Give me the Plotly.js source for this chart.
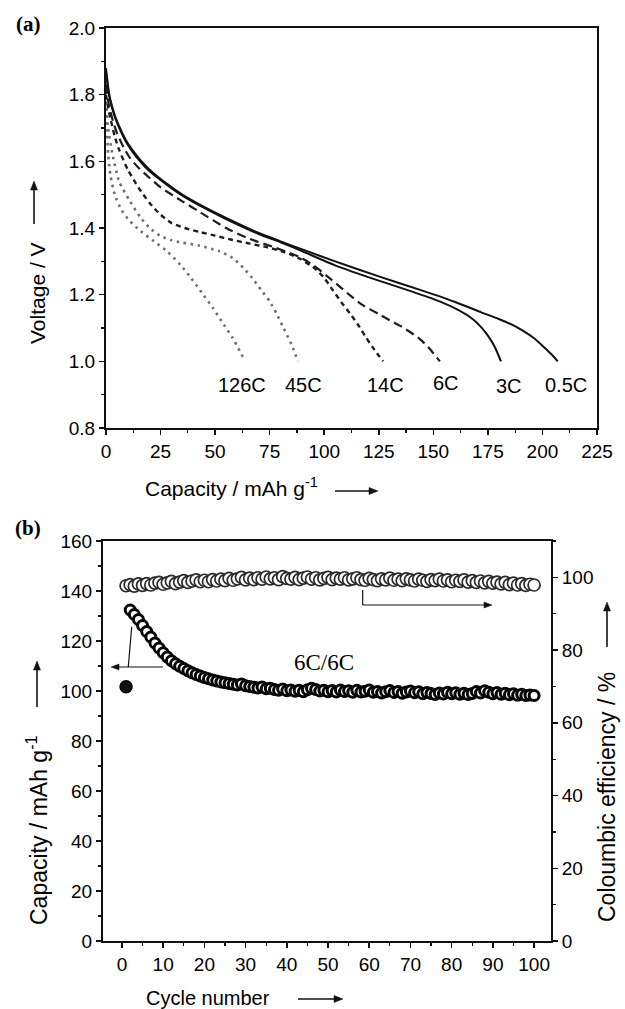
<!DOCTYPE html>
<html>
<head>
<meta charset="utf-8">
<script src="https://cdn.plot.ly/plotly-3.0.1.min.js"></script>
<style>
html,body{margin:0;padding:0;background:#fff;}
#chart{width:625px;height:1009px;}
</style>
</head>
<body>
<div id="chart"></div>
<script>
// ---------- Panel (a): discharge curves ----------
var cap05C = [0, 0.5, 1.5, 3, 4.5, 6.4, 9, 12, 15.6, 20, 27.8, 35, 43, 55, 70, 80, 89, 105, 125, 145, 160, 172, 180, 186, 191, 196, 200, 204, 207];
var v05C   = [1.88, 1.85, 1.80, 1.76, 1.73, 1.70, 1.665, 1.635, 1.605, 1.575, 1.533, 1.50, 1.47, 1.43, 1.385, 1.36, 1.338, 1.30, 1.255, 1.212, 1.178, 1.147, 1.127, 1.11, 1.092, 1.07, 1.047, 1.022, 1.0];

var cap3C = [0, 0.5, 1.5, 3, 4.5, 6.4, 9, 12, 15.6, 20, 27.8, 35, 43, 55, 70, 80, 89, 105, 125, 140, 152, 162, 168, 172, 175, 178, 181];
var v3C   = [1.87, 1.84, 1.795, 1.755, 1.725, 1.695, 1.66, 1.63, 1.60, 1.57, 1.53, 1.497, 1.467, 1.427, 1.382, 1.357, 1.333, 1.288, 1.242, 1.21, 1.182, 1.152, 1.127, 1.102, 1.077, 1.045, 1.0];

var cap6C = [0, 1, 3, 5, 8, 11, 15, 20, 25, 35, 43, 55, 66, 78, 89, 95, 101, 107, 112, 118, 125, 130, 135, 140, 144, 148, 153];
var v6C   = [1.83, 1.78, 1.725, 1.685, 1.643, 1.61, 1.58, 1.55, 1.522, 1.48, 1.448, 1.40, 1.367, 1.34, 1.312, 1.288, 1.257, 1.225, 1.197, 1.167, 1.142, 1.123, 1.106, 1.085, 1.066, 1.04, 1.0];

var cap14C = [0, 1, 2, 4, 6, 10, 15, 20, 25, 30, 36, 43, 50, 58, 66, 74, 82, 89, 96, 100, 104, 108, 112, 116, 119, 123, 127];
var v14C   = [1.80, 1.76, 1.73, 1.675, 1.635, 1.575, 1.52, 1.475, 1.44, 1.415, 1.40, 1.388, 1.377, 1.364, 1.353, 1.342, 1.327, 1.307, 1.277, 1.25, 1.213, 1.176, 1.142, 1.105, 1.073, 1.035, 1.0];

var cap45C = [0, 1, 3, 6, 11, 16, 20, 25, 30, 35, 43, 52, 58, 63, 67, 71, 75, 78, 81, 85, 88];
var v45C   = [1.78, 1.70, 1.62, 1.54, 1.48, 1.43, 1.40, 1.376, 1.363, 1.356, 1.347, 1.33, 1.31, 1.28, 1.25, 1.215, 1.18, 1.145, 1.105, 1.05, 1.0];

var cap126C = [0, 0.5, 1, 2, 4, 7, 11, 16, 22, 28, 34, 39, 44, 49, 54, 58, 63];
var v126C   = [1.76, 1.68, 1.62, 1.56, 1.50, 1.455, 1.42, 1.39, 1.36, 1.33, 1.29, 1.25, 1.205, 1.16, 1.11, 1.07, 1.01];

var rateLabels = ["126C", "45C", "14C", "6C", "3C", "0.5C"];
var rateLabelCap = [62.3, 90.7, 128.2, 155.7, 184.6, 210.7];
var rateLabelV = [0.93, 0.93, 0.93, 0.935, 0.925, 0.93];

// ---------- Panel (b): cycling ----------
var firstCycle = [1];
var firstCapacity = [101.7];

var cycles = [2, 3, 4, 5, 6, 7, 8, 9, 10,
  11, 12, 13, 14, 15, 16, 17, 18, 19, 20,
  21, 22, 23, 24, 25, 26, 27, 28, 29, 30,
  31, 32, 33, 34, 35, 36, 37, 38, 39, 40,
  41, 42, 43, 44, 45, 46, 47, 48, 49, 50,
  51, 52, 53, 54, 55, 56, 57, 58, 59, 60,
  61, 62, 63, 64, 65, 66, 67, 68, 69, 70,
  71, 72, 73, 74, 75, 76, 77, 78, 79, 80,
  81, 82, 83, 84, 85, 86, 87, 88, 89, 90,
  91, 92, 93, 94, 95, 96, 97, 98, 99, 100];
var capacity = [132.4, 130.6, 128.6, 126.2, 123.8, 121.6, 119.2, 117.2, 115.3,
  113.6, 112.1, 110.9, 109.9, 109.0, 108.1, 107.3, 106.6, 106.0, 105.4,
  104.9, 104.4, 104.0, 103.6, 103.3, 103.0, 102.7, 102.4, 102.8, 102.1,
  101.8, 101.5, 101.2, 101.6, 100.9, 101.1, 100.6, 100.3, 100.8, 100.1,
  100.4, 99.9, 100.3, 99.7, 100.5, 101.1, 100.6, 100.0, 100.3, 99.7,
  100.2, 99.6, 100.4, 99.8, 100.1, 99.5, 100.3, 99.6, 99.9, 100.4,
  99.5, 99.8, 99.2, 99.7, 100.2, 99.4, 99.8, 99.1, 99.6, 100.0,
  99.3, 99.7, 98.9, 99.4, 99.0, 98.6, 99.2, 98.8, 99.5, 98.9,
  99.3, 98.7, 99.1, 98.6, 99.0, 99.8, 99.2, 100.1, 99.5, 98.9,
  99.4, 98.7, 99.1, 98.5, 98.9, 98.3, 98.7, 98.2, 98.4, 98.2];

var effCycles = [1, 2, 3, 4, 5, 6, 7, 8, 9, 10,
  11, 12, 13, 14, 15, 16, 17, 18, 19, 20,
  21, 22, 23, 24, 25, 26, 27, 28, 29, 30,
  31, 32, 33, 34, 35, 36, 37, 38, 39, 40,
  41, 42, 43, 44, 45, 46, 47, 48, 49, 50,
  51, 52, 53, 54, 55, 56, 57, 58, 59, 60,
  61, 62, 63, 64, 65, 66, 67, 68, 69, 70,
  71, 72, 73, 74, 75, 76, 77, 78, 79, 80,
  81, 82, 83, 84, 85, 86, 87, 88, 89, 90,
  91, 92, 93, 94, 95, 96, 97, 98, 99, 100];
var efficiency = [97.7, 98.0, 97.6, 98.2, 97.8, 98.3, 97.9, 98.4, 98.6, 98.1,
  98.5, 98.9, 98.3, 98.7, 99.1, 98.6, 99.0, 99.3, 98.8, 99.2,
  98.8, 99.4, 99.0, 99.5, 99.1, 99.7, 99.2, 99.6, 100.0, 99.3,
  99.8, 99.4, 99.9, 99.5, 100.1, 99.6, 99.9, 99.4, 100.2, 99.7,
  99.5, 100.0, 99.4, 99.8, 100.1, 99.5, 99.9, 99.3, 99.7, 100.0,
  99.4, 99.8, 99.5, 99.9, 99.3, 99.6, 99.9, 99.4, 99.2, 99.7,
  99.4, 99.1, 99.6, 99.3, 99.8, 99.2, 99.5, 99.1, 99.6, 99.3,
  99.0, 99.5, 99.2, 98.9, 99.4, 99.1, 99.5, 99.0, 99.3, 98.8,
  99.2, 98.9, 99.3, 98.7, 99.1, 98.6, 99.0, 98.5, 98.9, 98.4,
  98.7, 98.2, 98.6, 98.0, 98.4, 97.9, 98.3, 97.8, 98.1, 97.9];

// ---------- styling ----------
var W = 625, H = 1009;
function px(x){ return x / W; }
function py(y){ return 1 - y / H; }

var SANS = "Liberation Sans, Arial, sans-serif";
var SERIF = "Liberation Serif, Times New Roman, serif";
var INK = "#111111";

function lineTrace(x, y, dash, width, color){
  return {x: x, y: y, xaxis: "x", yaxis: "y", mode: "lines",
    line: {color: color, width: width, dash: dash, shape: "spline", smoothing: 0.6},
    hoverinfo: "skip"};
}

var traces = [
  lineTrace(cap126C, v126C, "2.5px,4.5px", 2.6, "#6f6f6f"),
  lineTrace(cap45C, v45C, "2.5px,4.5px", 2.6, "#6f6f6f"),
  lineTrace(cap14C, v14C, "5px,4px", 2.4, "#1e1e1e"),
  lineTrace(cap6C, v6C, "9px,5px", 2.2, "#1e1e1e"),
  lineTrace(cap3C, v3C, "solid", 2, INK),
  lineTrace(cap05C, v05C, "solid", 2, INK),
  {x: effCycles, y: efficiency, xaxis: "x2", yaxis: "y3", mode: "markers",
    marker: {symbol: "circle", size: 12, color: "#ffffff", line: {color: "#2a2a2a", width: 1.7}},
    hoverinfo: "skip"},
  {x: cycles, y: capacity, xaxis: "x2", yaxis: "y2", mode: "markers",
    marker: {symbol: "circle", size: 10, color: "#ffffff", line: {color: "#050505", width: 3}},
    hoverinfo: "skip"},
  {x: firstCycle, y: firstCapacity, xaxis: "x2", yaxis: "y2", mode: "markers",
    marker: {symbol: "circle", size: 12, color: "#111", line: {color: "#000", width: 1.5}},
    hoverinfo: "skip"}
];

function axisBase(extra){
  var a = {showgrid: false, zeroline: false, showline: true, linecolor: INK, linewidth: 2,
    ticks: "outside", ticklen: 5, tickwidth: 1.5, tickcolor: INK, fixedrange: true};
  for (var k in extra) a[k] = extra[k];
  return a;
}

var topTick = {family: SANS, size: 19, color: "#000"};
var botTick = {family: SANS, size: 19, color: "#000"};

function txt(xp, yp, text, font, angle){
  var a = {x: px(xp), y: py(yp), xref: "paper", yref: "paper", text: text, showarrow: false,
    xanchor: "center", yanchor: "middle", font: font};
  if (angle !== undefined) a.textangle = angle;
  return a;
}

var annotations = [];
for (var i = 0; i < rateLabels.length; i++){
  annotations.push({x: rateLabelCap[i], y: rateLabelV[i], xref: "x", yref: "y",
    xanchor: "center", yanchor: "middle",
    text: rateLabels[i], showarrow: false, font: {family: SANS, size: 20, color: "#000"}});
}
annotations = annotations.concat([
  txt(28, 24, "<b>(a)</b>", {family: SERIF, size: 21, color: "#000"}),
  txt(28, 528, "<b>(b)</b>", {family: SERIF, size: 21, color: "#000"}),
  txt(232, 487, "Capacity / mAh g<sup>-1</sup>", {family: SANS, size: 21, color: "#000"}),
  txt(37, 293, "Voltage / V", {family: SANS, size: 21, color: "#000"}, -90),
  txt(208, 998, "Cycle number", {family: SANS, size: 20, color: "#000"}),
  txt(37, 830, "Capacity / mAh g<sup>-1</sup>", {family: SANS, size: 23, color: "#000"}, -90),
  txt(607, 797, "Coloumbic efficiency / %", {family: SANS, size: 23, color: "#000"}, -90),
  {x: 49, y: 111.5, xref: "x2", yref: "y2", xanchor: "center", yanchor: "middle",
    text: "6C/6C", showarrow: false, font: {family: SERIF, size: 23, color: "#000"}}
]);

// arrows drawn as shapes (pixel positions converted to paper)
var shapes = [];
function seg(x0, y0, x1, y1, w){
  shapes.push({type: "line", xref: "paper", yref: "paper",
    x0: px(x0), y0: py(y0), x1: px(x1), y1: py(y1), line: {color: INK, width: w}});
}
function arrow(x0, y0, x1, y1, w, hl, hw){
  var dx = x1 - x0, dy = y1 - y0, L = Math.sqrt(dx*dx + dy*dy);
  var ux = dx / L, uy = dy / L;
  var bx = x1 - ux*hl, by = y1 - uy*hl;
  seg(x0, y0, bx, by, w);
  var p1x = bx - uy*hw, p1y = by + ux*hw, p2x = bx + uy*hw, p2y = by - ux*hw;
  shapes.push({type: "path", xref: "paper", yref: "paper",
    path: "M " + px(x1) + "," + py(y1) + " L " + px(p1x) + "," + py(p1y) +
          " L " + px(p2x) + "," + py(p2y) + " Z",
    fillcolor: INK, line: {color: INK, width: 0.5}});
}
// axis title arrows
arrow(335, 491, 378, 491, 1.6, 9, 3.5);
arrow(34, 224, 34, 181, 1.6, 9, 3.5);
arrow(298, 999, 343, 999, 1.6, 9, 3.5);
arrow(37, 707, 37, 661, 1.6, 9, 3.5);
arrow(607, 647, 607, 602, 1.6, 9, 3.5);
// panel (b) inner pointers
seg(131.7, 626.7, 128.3, 667, 1.2);
arrow(163, 667, 111, 667, 1.2, 8, 3);
seg(362.7, 590, 362.7, 605, 1.2);
arrow(362.7, 605, 492, 605, 1.2, 8, 3);

var layout = {
  width: W, height: H,
  margin: {l: 0, r: 0, t: 0, b: 0},
  paper_bgcolor: "#ffffff", plot_bgcolor: "#ffffff",
  showlegend: false,
  xaxis: axisBase({domain: [px(106), px(597)], range: [0, 225], anchor: "y",
    tick0: 0, dtick: 25, mirror: true, tickfont: topTick,
    minor: {dtick: 12.5, ticks: "outside", ticklen: 3, tickwidth: 1.2, tickcolor: INK}}),
  yaxis: axisBase({domain: [py(428), py(28)], range: [0.8, 2.0], anchor: "x",
    tick0: 0.8, dtick: 0.2, tickformat: ".1f", mirror: true, tickfont: topTick,
    minor: {dtick: 0.1, ticks: "outside", ticklen: 3, tickwidth: 1.2, tickcolor: INK}}),
  xaxis2: axisBase({domain: [px(103), px(551)], range: [-4.6, 104.1], anchor: "y2",
    tick0: 0, dtick: 10, mirror: true, tickfont: botTick,
    minor: {dtick: 5, ticks: "outside", ticklen: 3, tickwidth: 1.2, tickcolor: INK}}),
  yaxis2: axisBase({domain: [py(941), py(541)], range: [0, 160], anchor: "x2",
    tick0: 0, dtick: 20, tickfont: botTick,
    minor: {dtick: 10, ticks: "outside", ticklen: 3, tickwidth: 1.2, tickcolor: INK}}),
  yaxis3: axisBase({domain: [py(941), py(541)], range: [0, 110], anchor: "x2", overlaying: "y2", side: "right",
    tick0: 0, dtick: 20, tickfont: botTick,
    minor: {dtick: 10, ticks: "outside", ticklen: 3, tickwidth: 1.2, tickcolor: INK}}),
  annotations: annotations,
  shapes: shapes
};

Plotly.newPlot("chart", traces, layout, {staticPlot: true, displayModeBar: false});
</script>
</body>
</html>
